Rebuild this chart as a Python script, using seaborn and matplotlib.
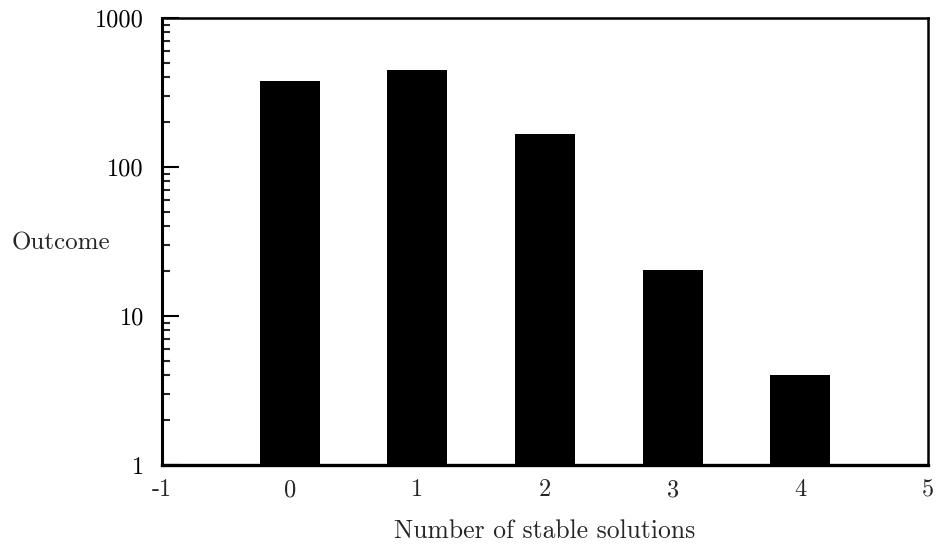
import matplotlib
matplotlib.use("Agg")
import matplotlib.pyplot as plt
import matplotlib.ticker as mticker
import seaborn as sns
import pandas as pd

solutions = [0, 1, 2, 3, 4]
outcome = [376, 451, 166, 20.3, 4.0]
x_ticks = [-1, 0, 1, 2, 3, 4, 5]
x_tick_labels = ["-1", "0", "1", "2", "3", "4", "5"]
y_ticks = [1, 10, 100, 1000]
y_tick_labels = ["1", "10", "100", "1000"]

sns.set_theme(style="white")
plt.rcParams["font.family"] = ["cmr10", "DejaVu Serif"]
plt.rcParams["mathtext.fontset"] = "cm"
plt.rcParams["axes.unicode_minus"] = False
plt.rcParams["axes.formatter.use_mathtext"] = True

df = pd.DataFrame({"solutions": solutions, "outcome": outcome})

fig = plt.figure(figsize=(9.36, 5.44), dpi=100)
ax = fig.add_axes([162/936, 79/544, (928-162)/936, (465-18)/544])
ax.set_yscale("log")
sns.barplot(data=df, x="solutions", y="outcome", native_scale=True,
            width=0.47, color="black", edgecolor="black", linewidth=0,
            saturation=1, ax=ax)

ax.set_xlim(-1, 5)
ax.set_ylim(1, 1000)
ax.set_xticks(x_ticks)
ax.set_xticklabels(x_tick_labels, fontsize=17.5)
ax.yaxis.set_major_locator(mticker.FixedLocator(y_ticks))
ax.yaxis.set_minor_locator(mticker.LogLocator(base=10, subs=range(2, 10)))
ax.yaxis.set_minor_formatter(mticker.NullFormatter())
ax.set_yticklabels(y_tick_labels, fontsize=17.5)

ax.tick_params(axis="x", which="both", length=0, pad=10, bottom=True)
ax.tick_params(axis="y", which="major", direction="in", length=12, width=1.5,
               left=True, right=False, pad=13, colors="black")
ax.tick_params(axis="y", which="minor", direction="in", length=6, width=1.5,
               left=True, right=False)

for side, lw in [("left", 2.2), ("right", 1.8), ("top", 1.8), ("bottom", 2.4)]:
    ax.spines[side].set_visible(True)
    ax.spines[side].set_color("black")
    ax.spines[side].set_linewidth(lw)

ax.set_xlabel("Number of stable solutions", fontsize=18.5, labelpad=13)
ax.set_ylabel("Outcome", fontsize=18, rotation=0, ha="center", va="center")
ax.yaxis.set_label_coords(-(162-61)/766, (465-243)/447)
ax.grid(False)

fig.savefig("out.png", dpi=100, facecolor="white")
